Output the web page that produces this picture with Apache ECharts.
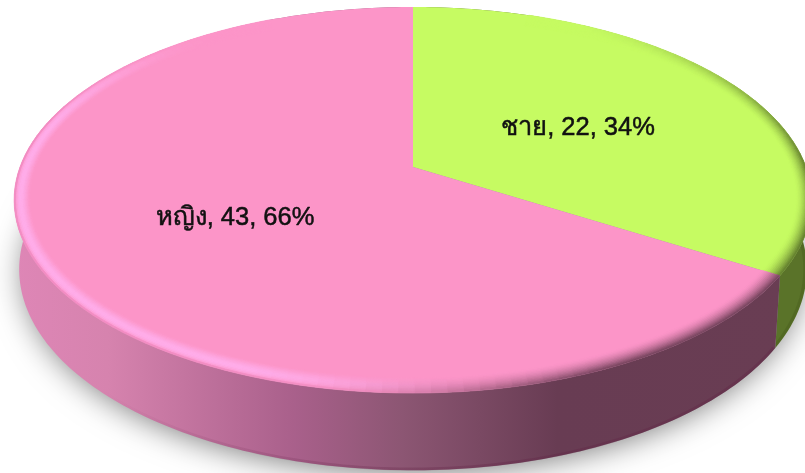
<!DOCTYPE html>
<html><head><meta charset="utf-8">
<style>html,body{margin:0;padding:0;background:#fff}#c{width:805px;height:473px}</style>
<script src="https://cdn.jsdelivr.net/npm/echarts@6/dist/echarts.min.js"></script>
</head><body><div id="c"></div>
<script>
var categories = ['ชาย', 'หญิง'];
var values = [22, 43];
var faceColors = ['#c6fb62', '#fc95c8'];
var total = values.reduce(function (a, b) { return a + b; }, 0);
var starts = values.map(function (v, i) {
  return values.slice(0, i).reduce(function (a, b) { return a + b; }, 0) / total * 360;
});
var labelPos = [[578, 128], [235, 218]];

var K = 0.171, cx = 413;
var topRing = { y0: 167, A: 393, B: 187.4 };
var botRing = { y0: 235, A: 388, B: 195 };
function P(ring, deg, sx, sy) {
  var t = deg * Math.PI / 180, u = Math.sin(t), v = Math.cos(t), w = 1 + K * v;
  return [cx + ring.A * (sx || 1) * u / w, ring.y0 - ring.B * (sy || sx || 1) * v / w];
}
function arc(ring, a, b, s) {
  var pts = [], n = Math.max(2, Math.ceil(Math.abs(b - a)));
  for (var i = 0; i <= n; i++) pts.push(P(ring, a + (b - a) * i / n, s));
  return pts;
}
var G = echarts.graphic.LinearGradient;
function hgrad(x0, x1, stops) { return new G(x0, 0, x1, 0, stops, true); }
function clamp(x) { return Math.max(0, Math.min(1, x)); }
function ramp(x, a, b) { var t = clamp((x - a) / (b - a)); return t * t * (3 - 2 * t); }
function mix(c, d, t) { return [0, 1, 2].map(function (k) { return c[k] + (d[k] - c[k]) * t; }); }
function rgb(c) { return 'rgb(' + c.map(Math.round).join(',') + ')'; }

var wallFills = [
  '#5a7329',
  hgrad(15, 790, [
    { offset: 0, color: '#de86b6' }, { offset: 0.12, color: '#d683ae' },
    { offset: 0.36, color: '#a9608b' }, { offset: 0.5, color: '#8c5673' },
    { offset: 0.7, color: '#683c53' }, { offset: 1, color: '#693d53' }
  ])
];
var wallEdge = [
  'rgba(40,55,10,0.15)',
  hgrad(100, 420, [{ offset: 0, color: 'rgba(95,30,65,0)' }, { offset: 1, color: 'rgba(95,30,65,0.28)' }])
];

function renderShadow(params, api) {
  return {
    type: 'polygon',
    shape: { points: arc(botRing, 0, 360, 0.985) },
    style: { fill: '#999', shadowBlur: 32, shadowColor: 'rgba(0,0,0,0.55)', shadowOffsetY: 5 }
  };
}
function renderWall(params, api) {
  var i = params.dataIndex;
  var a = starts[i], b = a + api.value(0) / total * 360;
  return {
    type: 'group',
    children: [
      { type: 'polygon',
        shape: { points: arc(topRing, a, b).concat(arc(botRing, b, a)) },
        style: { fill: wallFills[i] } },
      { type: 'polyline',
        shape: { points: arc(botRing, a, b, 0.995) },
        style: { fill: null, stroke: wallEdge[i], lineWidth: 3 } }
    ]
  };
}
var FACE = [[198, 251, 98], [252, 149, 200]];
var DARK = [[90, 115, 41], [105, 60, 83]];
var LIGHT = [255, 176, 238];
var BANDS = 11, SX = 0.04, SY = 0.07, SE = 0.05;
function bandColor(i, deg, t) {
  var c = FACE[i];
  if (i === 1) {
    var Lw = ramp(deg, 168, 205) * (1 - ramp(deg, 280, 325));
    var bump = Math.pow(Math.max(0, Math.sin(Math.PI * Math.pow(t, 0.75))), 1.4);
    c = mix(c, LIGHT, Lw * bump * 0.9);
    var Dw = 1 - ramp(deg, 150, 195);
    c = mix(c, DARK[1], Dw * Math.pow(1 - t, 1.6) * 0.95);
    c = mix(c, [236, 134, 188], Lw * ramp(0.16 - t, 0, 0.16) * 0.8);
  } else {
    var Dg = ramp(deg, 25, 100);
    c = mix(c, DARK[0], Dg * Math.pow(1 - t, 1.7) * 0.95);
  }
  return rgb(c);
}
function mesh(i, a, b, junction, ch) {
  var step = 2;
  function q(deg, t) {
    var n = ramp(Math.abs(deg - junction), 0, 12);
    var sx = SE + (SX - SE) * n, sy = SE + (SY - SE) * n;
    return P(topRing, deg, 1 - sx * t, 1 - sy * t);
  }
  for (var d = a; d < b - 1e-6; d += step) {
    var e = Math.min(b, d + step), m = (d + e) / 2;
    for (var j = BANDS - 1; j >= 0; j--) {
      var t0 = j / BANDS, t1 = (j + 1) / BANDS, col = bandColor(i, m, (t0 + t1) / 2);
      ch.push({
        type: 'polygon',
        shape: { points: [q(d, t0), q(e, t0), q(e, t1), q(d, t1)] },
        style: { fill: col, stroke: col, lineWidth: 0.7 }
      });
    }
  }
}
function renderFace(params, api) {
  var i = params.dataIndex;
  var a = starts[i], b = a + api.value(0) / total * 360;
  var ch = [{
    type: 'polygon',
    shape: { points: [[cx, topRing.y0]].concat(arc(topRing, a, b)) },
    style: { fill: faceColors[i] }
  }];
  if (i === 1) mesh(i, a, 335, a, ch); else mesh(i, 20, b, b, ch);
  return { type: 'group', children: ch };
}
function renderLabel(params, api) {
  var i = params.dataIndex, v = api.value(0);
  return {
    type: 'text',
    style: {
      x: labelPos[i][0], y: labelPos[i][1],
      text: categories[i] + ', ' + v + ', ' + Math.round(v / total * 100) + '%',
      fill: '#111', stroke: '#111', lineWidth: 0.5, align: 'center', verticalAlign: 'middle',
      font: '25.5px "Liberation Sans", "Noto Sans", sans-serif'
    }
  };
}
var chart = echarts.init(document.getElementById('c'), null, { renderer: 'canvas' });
function seriesOf(fn, z, data) {
  return { type: 'custom', coordinateSystem: 'none', renderItem: fn, z: z, silent: true, animation: false, data: data };
}
chart.setOption({
  animation: false,
  backgroundColor: '#fff',
  series: [
    seriesOf(renderShadow, 1, [total]),
    seriesOf(renderWall, 2, values),
    seriesOf(renderFace, 3, values),
    seriesOf(renderLabel, 4, values)
  ]
});
</script></body></html>
